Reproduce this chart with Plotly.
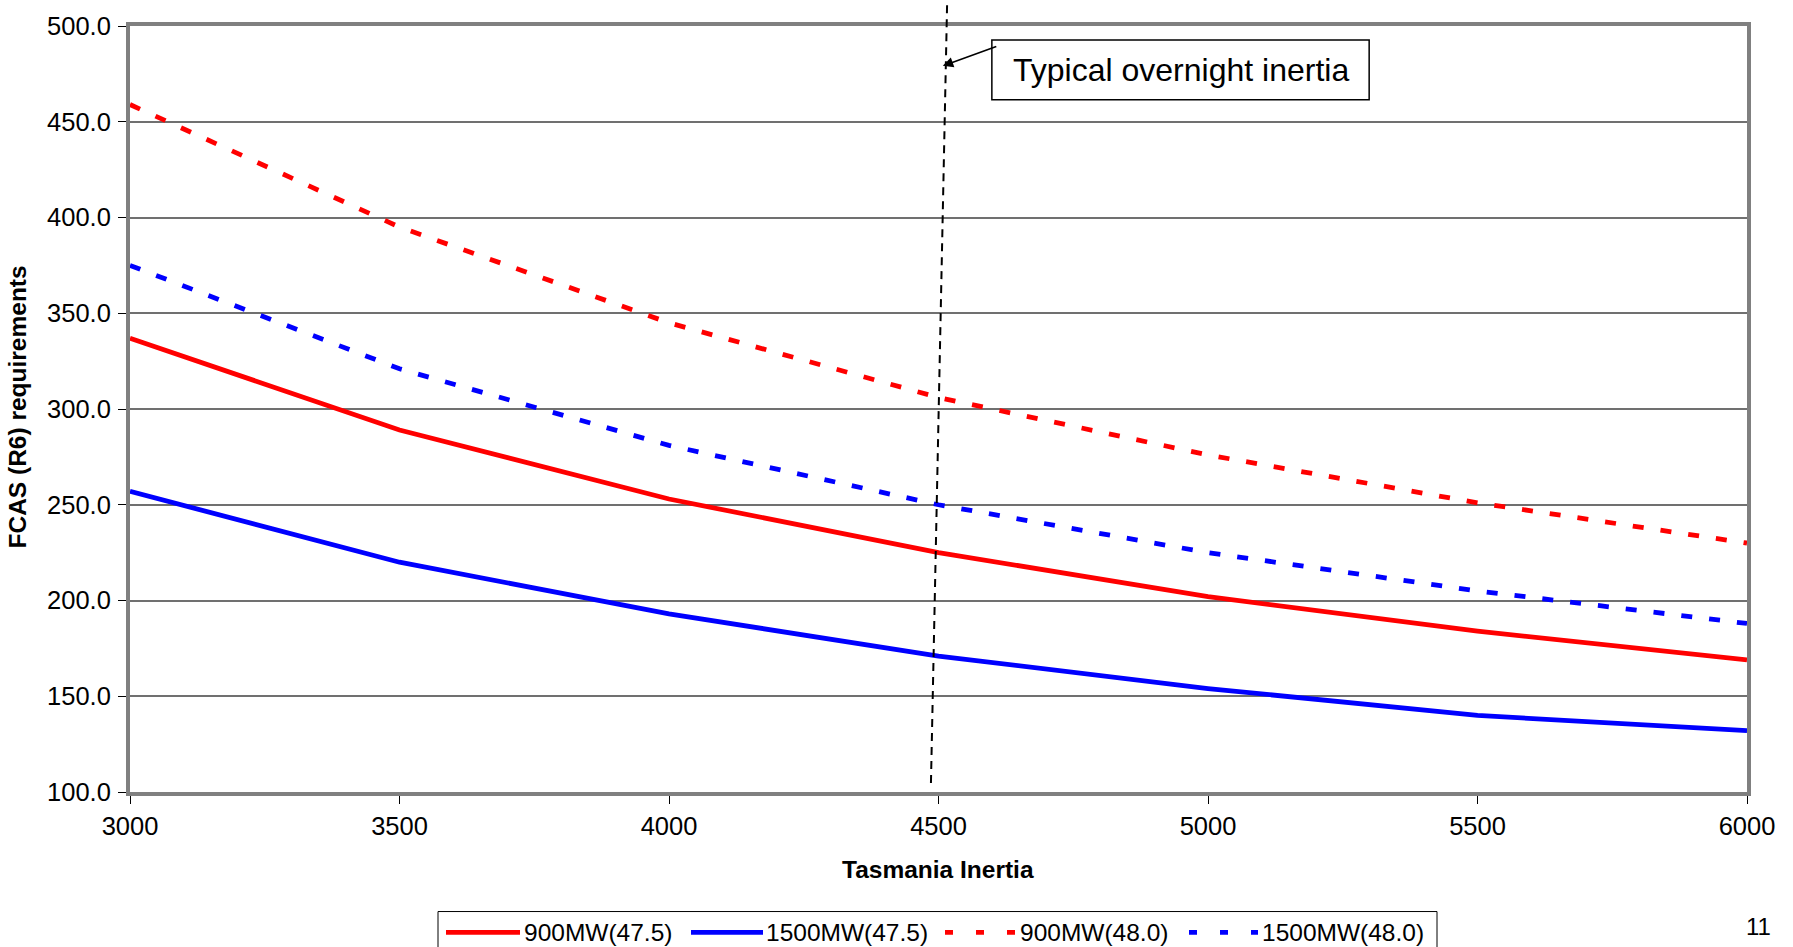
import plotly.graph_objects as go

# ---------------- data ----------------
inertia = [3000, 3500, 4000, 4500, 5000, 5500, 6000]
fcas_900_475 = [337, 289, 253, 225, 202, 184, 169]
fcas_1500_475 = [257, 220, 193, 171, 154, 140, 132]
fcas_900_480 = [459, 395, 345, 306, 276, 251, 230]
fcas_1500_480 = [375, 321, 281, 250, 225, 205, 188]

series_names = ["900MW(47.5)", "1500MW(47.5)", "900MW(48.0)", "1500MW(48.0)"]
series_values = [fcas_900_475, fcas_1500_475, fcas_900_480, fcas_1500_480]
series_colors = ["#ff0000", "#0000ff", "#ff0000", "#0000ff"]
series_dash = ["solid", "solid", "11px,17px", "11px,17px"]

y_ticks = [100, 150, 200, 250, 300, 350, 400, 450, 500]
x_ticks = [3000, 3500, 4000, 4500, 5000, 5500, 6000]

annotation_text = "Typical overnight inertia"
page_number = "11"

FONT = "Liberation Sans, Arial, sans-serif"

fig = go.Figure()
for name, vals, col, dash in zip(series_names, series_values, series_colors, series_dash):
    fig.add_trace(go.Scatter(
        x=inertia, y=vals, name=name, mode="lines",
        line=dict(color=col, width=4.8, dash=dash),
        showlegend=False,
    ))

W, H = 1793, 947
ML, MR, MT, MB = 130, 46, 23, 155
PW, PH = W - ML - MR, H - MT - MB


def px_to_paper(px, py):
    return (px - ML) / PW, (H - MB - py) / PH


shapes = []
annotations = []

# vertical dashed "overnight inertia" marker
_, y_top = px_to_paper(0, 0)
_, y_bot = px_to_paper(0, 783)
shapes.append(dict(type="line", xref="x", yref="paper",
                   x0=4486, x1=4516, y0=y_bot, y1=y_top,
                   line=dict(color="black", width=2, dash="8px,6px")))

# annotation box
shapes.append(dict(type="rect", xref="x", yref="y",
                   x0=4599, x1=5299, y0=461.5, y1=492.7,
                   line=dict(color="black", width=1.5), fillcolor="white"))
annotations.append(dict(xref="x", yref="y", x=4949, y=477.1, text=annotation_text,
                        showarrow=False, font=dict(family=FONT, size=32, color="black"),
                        xanchor="center", yanchor="middle"))
# arrow
annotations.append(dict(xref="x", yref="y", x=4508, y=479.2, ax=4610, ay=489.6,
                        axref="x", ayref="y", text="", showarrow=True,
                        arrowhead=2, arrowsize=1.3, arrowwidth=1.6, arrowcolor="black"))

# axis titles
tx, ty = px_to_paper(938, 870)
annotations.append(dict(xref="paper", yref="paper", x=tx, y=ty, text="<b>Tasmania Inertia</b>",
                        showarrow=False, font=dict(family=FONT, size=24.5, color="black"),
                        xanchor="center", yanchor="middle"))
tx, ty = px_to_paper(18, 406)
annotations.append(dict(xref="paper", yref="paper", x=tx, y=ty, text="<b>FCAS (R6) requirements</b>",
                        showarrow=False, textangle=-90, font=dict(family=FONT, size=24.5, color="black"),
                        xanchor="center", yanchor="middle"))

# page number
tx, ty = px_to_paper(1758, 927)
annotations.append(dict(xref="paper", yref="paper", x=tx, y=ty, text=page_number,
                        showarrow=False, font=dict(family=FONT, size=24, color="black"),
                        xanchor="center", yanchor="middle"))

# custom legend
lx0, ly0 = px_to_paper(438, 912)
lx1, ly1 = px_to_paper(1437, 965)
shapes.append(dict(type="rect", xref="paper", yref="paper", x0=lx0, x1=lx1, y0=ly1, y1=ly0,
                   line=dict(color="black", width=1), fillcolor="white", layer="below"))
leg_line_x = [(446, 520), (691, 763), (945, 1015), (1189, 1258)]
leg_text_x = [522, 764, 1018, 1260]
leg_y = 933
leg_dash = ["solid", "solid", "8px,23px", "8px,23px"]
for (a, b), t, name, col, d in zip(leg_line_x, leg_text_x, series_names, series_colors, leg_dash):
    xa, yy = px_to_paper(a, leg_y)
    xb, _ = px_to_paper(b, leg_y)
    shapes.append(dict(type="line", xref="paper", yref="paper", x0=xa, x1=xb, y0=yy, y1=yy,
                       line=dict(color=col, width=4.8, dash=d)))
    xt, _ = px_to_paper(t, leg_y)
    annotations.append(dict(xref="paper", yref="paper", x=xt, y=yy, text=name, showarrow=False,
                            font=dict(family=FONT, size=24.5, color="black"),
                            xanchor="left", yanchor="middle"))

fig.update_layout(
    width=W, height=H, autosize=False,
    margin=dict(l=ML, r=MR, t=MT, b=MB, pad=0),
    paper_bgcolor="white", plot_bgcolor="white",
    font=dict(family=FONT, size=25, color="black"),
    shapes=shapes, annotations=annotations,
    showlegend=False,
)
fig.update_xaxes(
    range=[3000, 6000], tickvals=x_ticks, ticktext=[str(v) for v in x_ticks],
    showgrid=False, zeroline=False,
    showline=True, linecolor="#808080", linewidth=4, mirror=True,
    ticks="outside", ticklen=8, tickwidth=1, tickcolor="black",
    tickfont=dict(family=FONT, size=25.5, color="black"),
    ticklabelstandoff=0,
)
fig.update_yaxes(
    range=[100, 500], tickvals=y_ticks, ticktext=[f"{v:.1f}" for v in y_ticks],
    showgrid=True, gridcolor="#707070", gridwidth=2, zeroline=False,
    showline=True, linecolor="#808080", linewidth=4, mirror=True,
    ticks="outside", ticklen=8, tickwidth=1, tickcolor="black",
    tickfont=dict(family=FONT, size=25.5, color="black"),
    ticklabelstandoff=2,
)

fig.write_html("out.html")
